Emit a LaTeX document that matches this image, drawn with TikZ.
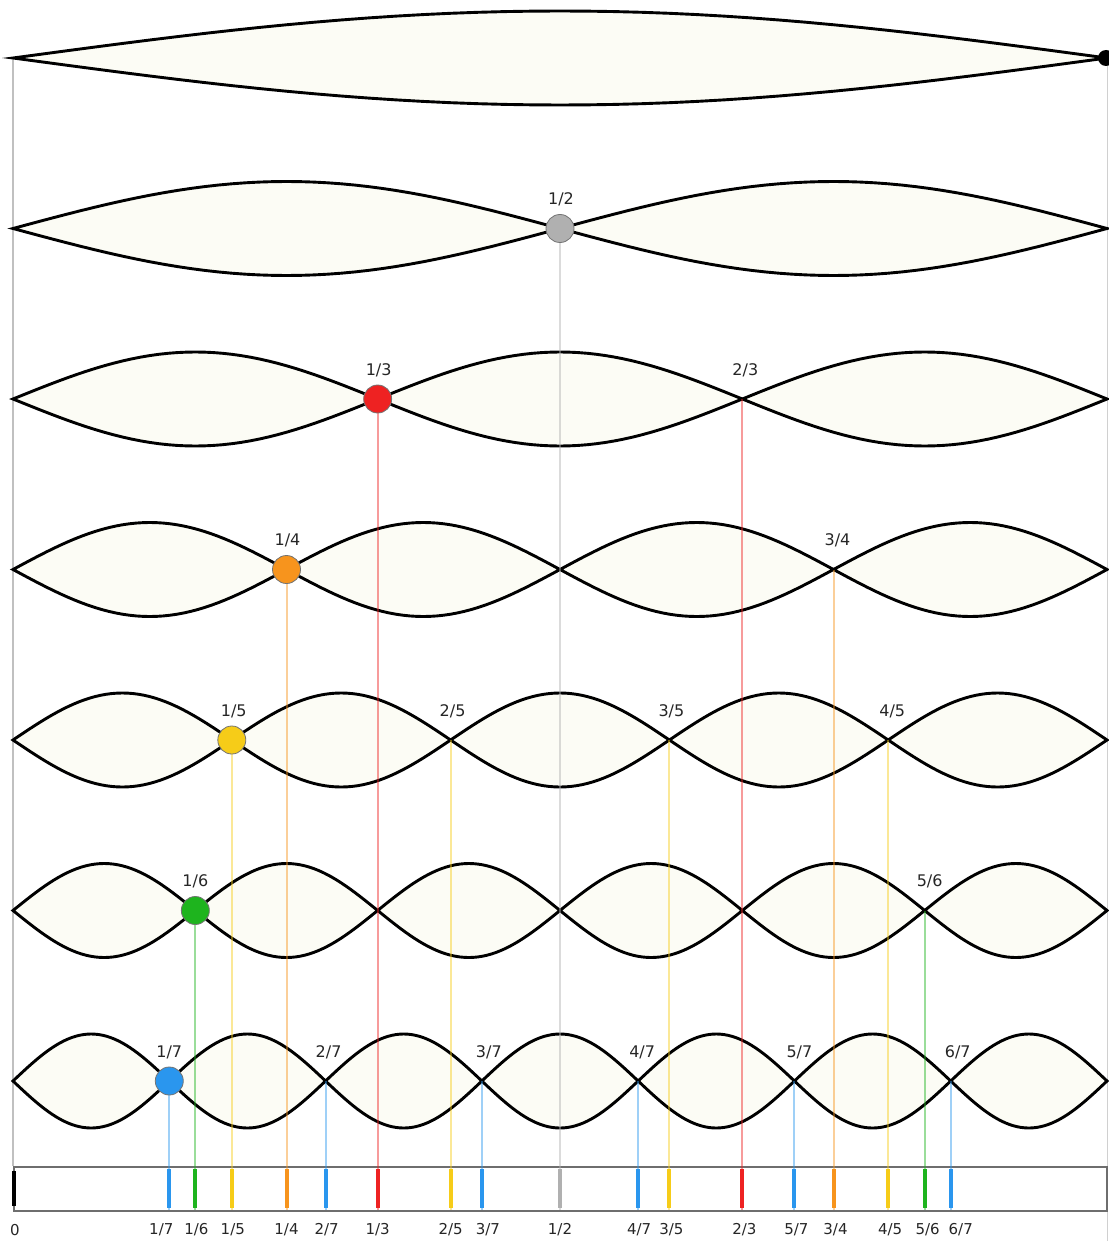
\documentclass[tikz,border=0pt]{standalone}
\usepackage{fontspec}
\setmainfont{DejaVu Sans}
\definecolor{lobefill}{RGB}{252,252,245}
\definecolor{cgray}{RGB}{176,176,176}
\definecolor{cred}{RGB}{238,34,34}
\definecolor{corange}{RGB}{247,148,29}
\definecolor{cyellow}{RGB}{246,204,24}
\definecolor{cgreen}{RGB}{30,180,30}
\definecolor{cblue}{RGB}{42,150,238}
\definecolor{barline}{RGB}{110,110,110}
\tikzset{
  lobe/.style={draw=black, fill=lobefill, line width=2.9pt, line join=miter},
  guide/.style={line width=2pt, opacity=0.45},
  tick/.style={line width=4pt},
  dotnode/.style={circle, minimum size=28pt, inner sep=0pt, draw=black!55, line width=0.8pt},
  toplab/.style={font=\fontsize{16}{16}\selectfont, text=black!85, inner sep=0pt},
  botlab/.style={font=\fontsize{15}{15}\selectfont, text=black!85, inner sep=0pt},
}
\begin{document}
\begin{tikzpicture}[x=1pt,y=-1pt]
\useasboundingbox (0,0) rectangle (1108,1241);
\def\xo{13}
\def\L{1094}
% outer vertical lines
\draw[cgray!80, line width=1.2pt] (\xo,58) -- (\xo,1166);
\draw[cgray!60, line width=1pt] (1107,58) -- (1107,1241);
% lobes
\foreach \n in {1,...,7}{
  \pgfmathsetmacro\yc{58+(\n-1)*170.5}
  \pgfmathsetmacro\w{\L/\n}
  \foreach \k in {1,...,\n}{
    \pgfmathsetmacro\xa{\xo+(\k-1)*\w}
    \draw[lobe] plot[domain=0:180,samples=41,variable=\t] ({\xa+\t/180*\w},{\yc-47*sin(\t)})
      -- plot[domain=180:0,samples=41,variable=\t] ({\xa+\t/180*\w},{\yc+47*sin(\t)}) -- cycle;
  }
}
% right end dot of the first row
\fill[black] (1106,58) circle (8);
% bar
\node[draw=barline, line width=2pt, minimum width=1093pt, minimum height=44pt, inner sep=0pt, anchor=north west] (bar) at (\xo,1166) {};
\draw[black, line width=3.5pt] (\xo+1,1171) -- (\xo+1,1206);
% guide lines from nodes to bar, ticks and labels
% entries: numerator/denominator/colour/has-dot/bottom-label shift/top-label shift
\foreach \p/\q/\c/\d/\bs/\ts in {1/2/cgray/1/0/1, 1/3/cred/1/0/1, 2/3/cred/0/2/3, 1/4/corange/1/0/1, 3/4/corange/0/2/4,
   1/5/cyellow/1/1/2, 2/5/cyellow/0/0/2, 3/5/cyellow/0/2/2, 4/5/cyellow/0/2/4,
   1/6/cgreen/1/1/0, 5/6/cgreen/0/3/5,
   1/7/cblue/1/-8/0, 2/7/cblue/0/1/3, 3/7/cblue/0/6/7, 4/7/cblue/0/1/4, 5/7/cblue/0/2/5, 6/7/cblue/0/10/7}{
  \pgfmathsetmacro\xx{\xo+\p*\L/\q}
  \pgfmathsetmacro\yy{58+(\q-1)*170.5}
  \coordinate (s-\p-\q) at (\xx,\yy);
  \coordinate (e-\p-\q) at (\xx,1210);
  \draw[guide, \c] (s-\p-\q) -- (e-\p-\q);
  \draw[tick, \c] (\xx,1169) -- (\xx,1208);
  \ifnum\d=1
    \node[dotnode, fill=\c] (dot-\p-\q) at (s-\p-\q) {};
  \fi
  \node[toplab] (lab-\p-\q) at (\xx+\ts,\yy-29) {\p/\q};
  \node[botlab] (bl-\p-\q) at (\xx+\bs,1230) {\p/\q};
}
\node[botlab] (bl-0) at (15,1230) {0};
\end{tikzpicture}
\end{document}
